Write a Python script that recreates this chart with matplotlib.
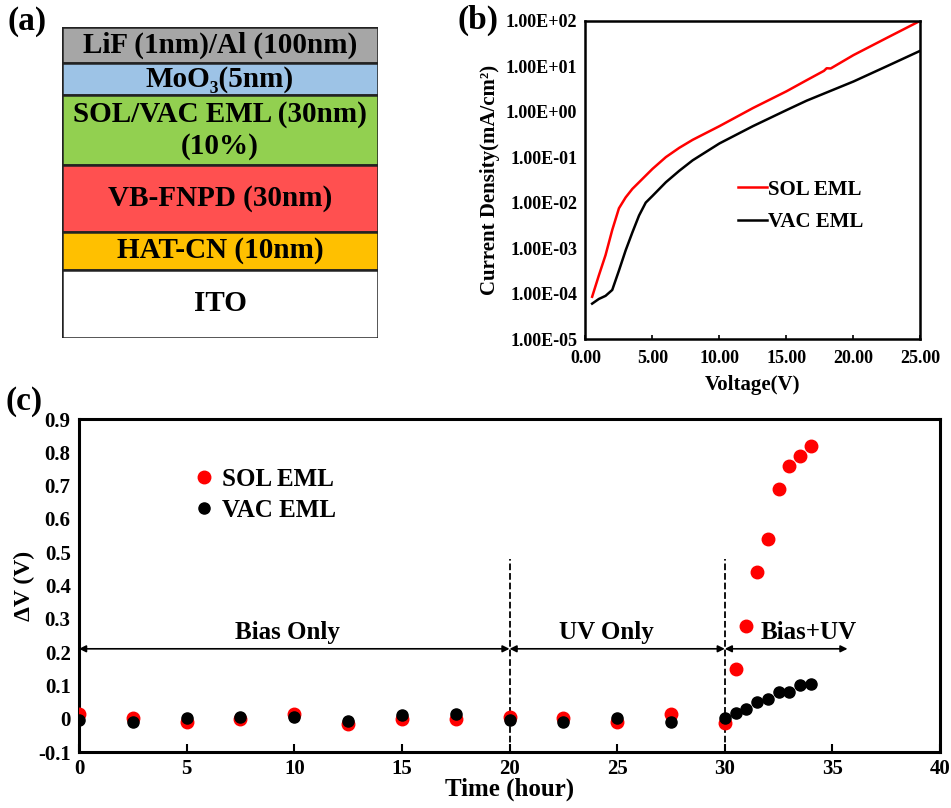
import numpy as np
import matplotlib
matplotlib.use("Agg")
import matplotlib.pyplot as plt
from matplotlib.patches import Rectangle
from matplotlib.ticker import FuncFormatter, MultipleLocator

plt.rcParams['font.family'] = ['Liberation Serif', 'DejaVu Serif']
plt.rcParams['font.weight'] = 'bold'

# (a) device stack, top to bottom
layer_names = ['LiF (1nm)/Al (100nm)', 'MoO\u2083(5nm)', 'SOL/VAC EML (30nm)\n(10%)',
               'VB-FNPD (30nm)', 'HAT-CN (10nm)', 'ITO']
layer_colors = ['#A6A6A6', '#9DC3E6', '#92D050', '#FF5050', '#FFC000', '#FFFFFF']
layer_heights = [36, 32, 70, 66, 38, 68]

# (b) J-V curves
v_sol = [0.5, 1.0, 1.5, 2.0, 2.5, 3.0, 3.5, 4.0, 5.0, 6.0, 7.0, 8.0, 10.0, 12.5,
         15.0, 16.5, 17.8, 18.0, 18.3, 20.0, 22.5, 25.0]
j_sol = [8.5e-5, 2.5e-4, 7.0e-4, 2.5e-3, 7.5e-3, 1.3e-2, 2.0e-2, 2.8e-2, 5.5e-2, 1.0e-1,
         1.6e-1, 2.4e-1, 4.8e-1, 1.2, 2.8, 4.9, 7.9, 9.0, 8.9, 17.5, 42.0, 100.0]
v_vac = [0.5, 1.0, 1.5, 2.0, 2.5, 3.0, 3.5, 4.0, 4.5, 5.0, 6.0, 7.0, 8.0, 10.0, 12.5,
         15.0, 16.5, 20.0, 22.5, 25.0]
j_vac = [6.0e-5, 7.6e-5, 8.9e-5, 1.2e-4, 3.2e-4, 8.9e-4, 2.2e-3, 5.2e-3, 1.0e-2, 1.4e-2,
         2.8e-2, 5.0e-2, 8.5e-2, 2.0e-1, 4.8e-1, 1.08, 1.74, 4.6, 10.0, 21.9]

# (c) voltage shift vs time
t = [0, 2.5, 5, 7.5, 10, 12.5, 15, 17.5, 20, 22.5, 25, 27.5, 30,
     30.5, 31, 31.5, 32, 32.5, 33, 33.5, 34]
dv_sol = [0.013, 0.003, -0.01, -0.002, 0.015, -0.017, -0.002, -0.002, 0.006, 0.003,
          -0.01, 0.013, -0.014, 0.15, 0.28, 0.44, 0.54, 0.69, 0.76, 0.79, 0.82]
dv_vac = [-0.004, -0.009, 0.003, 0.006, 0.006, -0.007, 0.01, 0.013, -0.004, -0.009,
          0.003, -0.009, 0.003, 0.016, 0.03, 0.05, 0.06, 0.08, 0.08, 0.10, 0.103]
phase_edges = [0, 20, 30, 35.7]
phase_names = ['Bias Only', 'UV Only', 'Bias+UV']

fig = plt.figure(figsize=(9.51, 8.08), dpi=100)

# ---- (a)
ax_a = fig.add_axes([0.0652, 0.5817, 0.3323, 0.3849])
total = sum(layer_heights)
y0 = 0
for name, col, h in zip(layer_names, layer_colors, layer_heights):
    ax_a.add_patch(Rectangle((0, y0), 1, h, facecolor=col, edgecolor='#222222', lw=1.8))
    ax_a.text(0.5, y0 + h / 2, name, ha='center', va='center', fontsize=21,
              fontweight='bold', linespacing=1.2)
    y0 += h
ax_a.set_xlim(0, 1)
ax_a.set_ylim(total, 0)
ax_a.axis('off')

# ---- (b)
ax_b = fig.add_axes([0.6156, 0.5804, 0.3523, 0.394])
ax_b.semilogy(v_sol, j_sol, color='#FF0000', lw=1.8, label='SOL EML')
ax_b.semilogy(v_vac, j_vac, color='black', lw=1.8, label='VAC EML')
ax_b.set_xlim(0, 25)
ax_b.set_ylim(1e-5, 1e2)
ax_b.xaxis.set_major_locator(MultipleLocator(5))
ax_b.xaxis.set_major_formatter(FuncFormatter(lambda v, p: f'{v:.2f}'))
ax_b.yaxis.set_major_formatter(FuncFormatter(lambda v, p: f'{v:.2E}'))
ax_b.yaxis.set_minor_locator(matplotlib.ticker.NullLocator())
ax_b.tick_params(axis='x', direction='in', length=3, width=1.2, labelsize=13, pad=8)
ax_b.tick_params(axis='y', length=0, labelsize=13, pad=6)
for s in ax_b.spines.values():
    s.set_linewidth(1.8)
ax_b.set_xlabel('Voltage(V)', fontsize=15, fontweight='bold', labelpad=6)
ax_b.set_ylabel('Current Density(mA/cm\u00b2)', fontsize=15, fontweight='bold', labelpad=4)
ax_b.legend(loc='upper left', bbox_to_anchor=(0.40, 0.56), frameon=False,
            handlelength=1.4, handletextpad=0.05, labelspacing=0.6,
            prop={'weight': 'bold', 'size': 15})

# ---- (c)
ax_c = fig.add_axes([0.0831, 0.0693, 0.9054, 0.412])
ax_c.plot(t, dv_sol, 'o', color='#FF0000', ms=9, label='SOL EML', zorder=3)
ax_c.plot(t, dv_vac, 'o', color='black', ms=8, label='VAC EML', zorder=3)
for xe in phase_edges[1:3]:
    ax_c.plot([xe, xe], [-0.1, 0.48], ls='--', color='black', lw=1.3)
label_x = [9.7, 24.5, 33.9]
for i, name in enumerate(phase_names):
    a, b = phase_edges[i], phase_edges[i + 1]
    ax_c.annotate('', xy=(a, 0.21), xytext=(b, 0.21),
                  arrowprops=dict(arrowstyle='<|-|>', color='black', lw=1.2,
                                  mutation_scale=10, shrinkA=0, shrinkB=0))
    ax_c.text(label_x[i], 0.225, name, ha='center', va='bottom',
              fontsize=18, fontweight='bold')
ax_c.set_xlim(0, 40)
ax_c.set_ylim(-0.1, 0.9)
ax_c.xaxis.set_major_locator(MultipleLocator(5))
ax_c.yaxis.set_major_locator(MultipleLocator(0.1))
ax_c.yaxis.set_major_formatter(FuncFormatter(lambda v, p: '0' if abs(v) < 1e-9 else f'{v:.1f}'))
ax_c.tick_params(axis='x', direction='in', length=6, width=1.5, labelsize=15, pad=5)
ax_c.tick_params(axis='y', length=0, labelsize=15, pad=6)
for s in ax_c.spines.values():
    s.set_linewidth(2.2)
ax_c.set_xlabel('Time (hour)', fontsize=18, fontweight='bold', labelpad=-1)
ax_c.set_ylabel('\u0394V (V)', fontsize=17, fontweight='bold', labelpad=2)
ax_c.legend(loc='upper left', bbox_to_anchor=(0.105, 0.92), frameon=False,
            handlelength=1.0, handletextpad=0.2, labelspacing=0.3,
            prop={'weight': 'bold', 'size': 18})

# panel labels
fig.text(0.008, 0.973, '(a)', fontsize=24, fontweight='bold', va='center')
fig.text(0.481, 0.975, '(b)', fontsize=24, fontweight='bold', va='center')
fig.text(0.006, 0.503, '(c)', fontsize=24, fontweight='bold', va='center')

fig.savefig('out.png', dpi=100)
